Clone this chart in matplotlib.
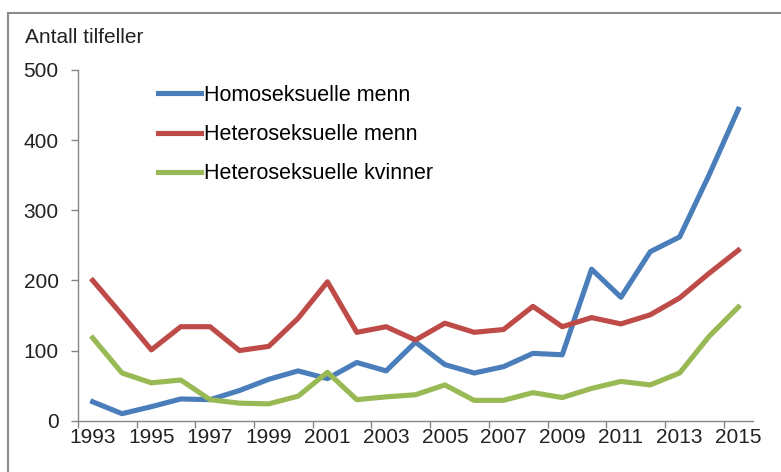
import matplotlib.pyplot as plt
from matplotlib.lines import Line2D

years = list(range(1993, 2016))
homo_menn = [27, 10, 20, 31, 30, 43, 59, 71, 60, 83, 71, 112,
             80, 68, 77, 96, 94, 216, 176, 241, 262, 350, 444]
hetero_menn = [200, 151, 101, 134, 134, 100, 106, 146, 198, 126, 134, 115,
               139, 126, 130, 163, 134, 147, 138, 151, 175, 210, 243]
hetero_kvinner = [118, 68, 54, 58, 30, 25, 24, 35, 69, 30, 34, 37,
                  51, 29, 29, 40, 33, 46, 56, 51, 68, 120, 162]

labels = ['Homoseksuelle menn', 'Heteroseksuelle menn', 'Heteroseksuelle kvinner']
colors = ['#4A7EBB', '#BE4B48', '#98B954']

plt.rcParams['font.family'] = ['Liberation Sans', 'DejaVu Sans']

fig = plt.figure(figsize=(7.81, 4.72), dpi=100)
ax = fig.add_axes([78 / 781, 1 - 420.7 / 472, 675 / 781, 350.7 / 472])

x = list(range(len(years)))
for vals, lab, col in zip([homo_menn, hetero_menn, hetero_kvinner], labels, colors):
    ax.plot(x, vals, color=col, lw=3.7, label=lab, solid_joinstyle='round')

ax.set_xlim(-0.5, len(years) - 0.5)
ax.set_ylim(0, 500)
ax.set_yticks(range(0, 501, 100))

# tick marks between categories, labels on every other year
ax.set_xticks([i - 0.5 for i in range(0, len(years), 2)], minor=False)
ax.set_xticklabels([])
ax.set_xticks(x[::2], minor=True)
ax.set_xticklabels([str(y) for y in years[::2]], minor=True)
ax.tick_params(axis='x', which='major', length=5, color='#868686', width=1)
ax.tick_params(axis='x', which='minor', length=0, pad=5, labelsize=15, labelcolor='#222222')
ax.tick_params(axis='y', length=5, color='#868686', width=1, pad=9, labelsize=15, labelcolor='#222222')

for s in ['top', 'right']:
    ax.spines[s].set_visible(False)
for s in ['left', 'bottom']:
    ax.spines[s].set_color('#868686')
    ax.spines[s].set_linewidth(1)

ax.legend(loc='upper left', bbox_to_anchor=(0.09, 1.013), frameon=False,
          fontsize=15.5, handlelength=2.0, handletextpad=0.15, labelspacing=0.85)

fig.text(25 / 781, 1 - 43 / 472, 'Antall tilfeller', fontsize=15, color='#222222', va='baseline')

# outer frame (cropped screenshot: only top and left edges visible)
fig.add_artist(Line2D([8 / 781, 8 / 781], [0, 1 - 13 / 472], color='#8c8c8c', lw=1.5))
fig.add_artist(Line2D([8 / 781, 1], [1 - 13 / 472, 1 - 13 / 472], color='#8c8c8c', lw=1.5))

fig.savefig('out.png', dpi=100)
